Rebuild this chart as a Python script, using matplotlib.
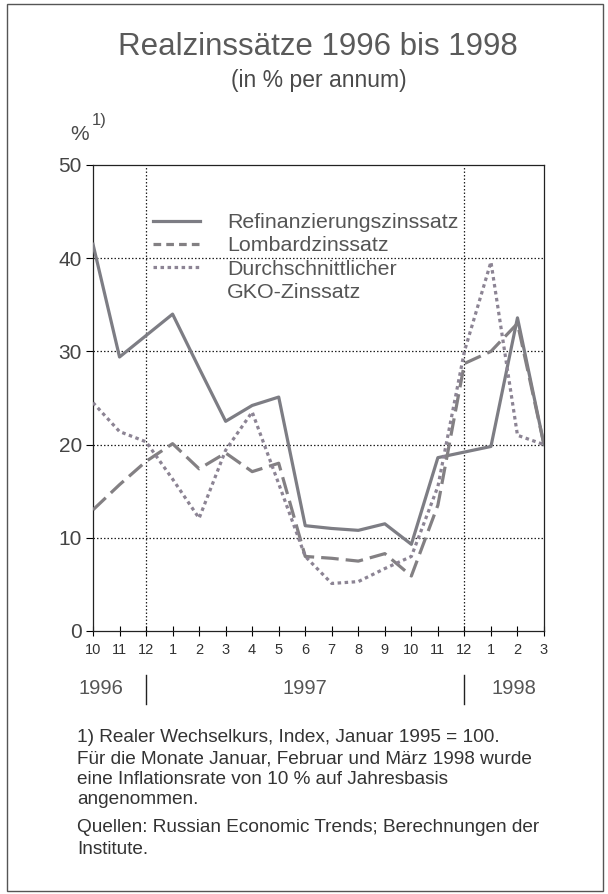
import matplotlib
matplotlib.use("Agg")
import matplotlib.pyplot as plt
from matplotlib.patches import Rectangle
from matplotlib.lines import Line2D
from matplotlib.transforms import blended_transform_factory

plt.rcParams['font.family'] = ['Liberation Sans', 'DejaVu Sans']

# ---- data ----
month_labels = ["10", "11", "12", "1", "2", "3", "4", "5", "6", "7", "8", "9",
                "10", "11", "12", "1", "2", "3"]
refinanzierung = [41.5, 29.4, 31.7, 34.0, 28.2, 22.5, 24.2, 25.1, 11.3, 11.0,
                  10.8, 11.5, 9.3, 18.6, 19.2, 19.8, 33.6, 20.0]
lombard = [13.0, 15.7, 18.2, 20.1, 17.4, 19.1, 17.1, 18.0, 8.0, 7.8,
           7.5, 8.3, 5.9, 13.5, 28.7, 30.0, 33.0, 20.0]
gko = [24.5, 21.4, 20.3, 16.3, 12.1, 19.4, 23.5, 15.8, 8.0, 5.1,
       5.3, 6.7, 8.0, 15.5, 30.0, 39.6, 21.0, 20.0]
series_labels = ["Refinanzierungszinssatz", "Lombardzinssatz",
                 "Durchschnittlicher", "GKO-Zinssatz"]
year_labels = ["1996", "1997", "1998"]
year_positions = [0.3, 8.0, 15.85]
year_separators = [2, 14]
y_ticks = [0, 10, 20, 30, 40, 50]

W, H = 608, 894
fig = plt.figure(figsize=(W / 100, H / 100), dpi=100)
fig.patch.set_facecolor("white")

def fx(px):
    return px / W

def fy(py):
    return 1 - py / H

# outer frame
fig.add_artist(Rectangle((fx(7), fy(891)), fx(603) - fx(7), fy(4) - fy(891),
                         transform=fig.transFigure, fill=False,
                         edgecolor="#555555", linewidth=1.0))

ax = fig.add_axes([fx(93), fy(631), fx(544) - fx(93), fy(165) - fy(631)])
x = list(range(len(month_labels)))

c_solid, c_dash, c_dot = "#7d7d84", "#838083", "#8c8494"
ax.plot(x, refinanzierung, color=c_solid, lw=2.3, zorder=3)
ax.plot(x, lombard, color=c_dash, lw=2.3, dashes=(5.5, 2.2), zorder=3)
ax.plot(x, gko, color=c_dot, lw=2.3, dashes=(1.1, 1.1), zorder=3)

ax.set_xlim(0, 17)
ax.set_ylim(0, 50)
ax.set_xticks(x)
ax.set_xticklabels(month_labels, fontsize=10.5, color="#333333")
ax.set_yticks(y_ticks)
ax.set_yticklabels([str(v) for v in y_ticks], fontsize=15, color="#444444")
ax.tick_params(axis="x", direction="inout", length=7, width=0.8, pad=5)
ax.tick_params(axis="y", direction="out", length=5, width=0.8, pad=3)

for v in y_ticks[1:-1]:
    ax.axhline(v, color="#222222", lw=0.9, ls=(0, (1.2, 1.6)), zorder=1)
for s in year_separators:
    ax.axvline(s, color="#222222", lw=0.9, ls=(0, (1.2, 1.6)), zorder=1)

for sp in ax.spines.values():
    sp.set_color("#222222")
    sp.set_linewidth(0.9)

handles = [
    Line2D([], [], color=c_solid, lw=2.3),
    Line2D([], [], color=c_dash, lw=2.3, dashes=(2.4, 1.6)),
    Line2D([], [], color=c_dot, lw=2.3, dashes=(1.1, 1.1)),
    Line2D([], [], color="none", lw=0),
]
leg = ax.legend(handles, series_labels, loc="upper left",
                bbox_to_anchor=(0.133, 0.897), frameon=False,
                fontsize=15.4, handlelength=2.2, handletextpad=1.25,
                labelspacing=0.2, borderaxespad=0, borderpad=0)
for t in leg.get_texts():
    t.set_color("#555555")

# year labels and separators below the axis
trans = blended_transform_factory(ax.transData, fig.transFigure)
for lab, pos in zip(year_labels, year_positions):
    ax.text(pos, fy(689), lab, transform=trans, ha="center", va="center",
            fontsize=14.5, color="#555555")
for s in year_separators:
    ax.plot([s, s], [fy(675), fy(704)], transform=trans, color="#222222",
            lw=1.0, clip_on=False)

# titles
fig.text(fx(318), fy(47), "Realzinssätze 1996 bis 1998", ha="center",
         va="center", fontsize=22.5, color="#5a5a5a")
fig.text(fx(319), fy(81), "(in % per annum)", ha="center", va="center",
         fontsize=16.5, color="#4a4a4a")
fig.text(fx(80), fy(134), "%", ha="center", va="center", fontsize=15,
         color="#4a4a4a")
fig.text(fx(99), fy(121), "1)", ha="center", va="center", fontsize=12,
         color="#4a4a4a")

notes = [
    ("1) Realer Wechselkurs, Index, Januar 1995 = 100.", 738),
    ("Für die Monate Januar, Februar und März 1998 wurde", 759),
    ("eine Inflationsrate von 10 % auf Jahresbasis", 779),
    ("angenommen.", 800),
    ("Quellen: Russian Economic Trends; Berechnungen der", 828),
    ("Institute.", 849),
]
for txt, py in notes:
    fig.text(fx(77), fy(py), txt, ha="left", va="center", fontsize=13.7,
             color="#333333")

fig.savefig("out.png", dpi=100, facecolor="white")
